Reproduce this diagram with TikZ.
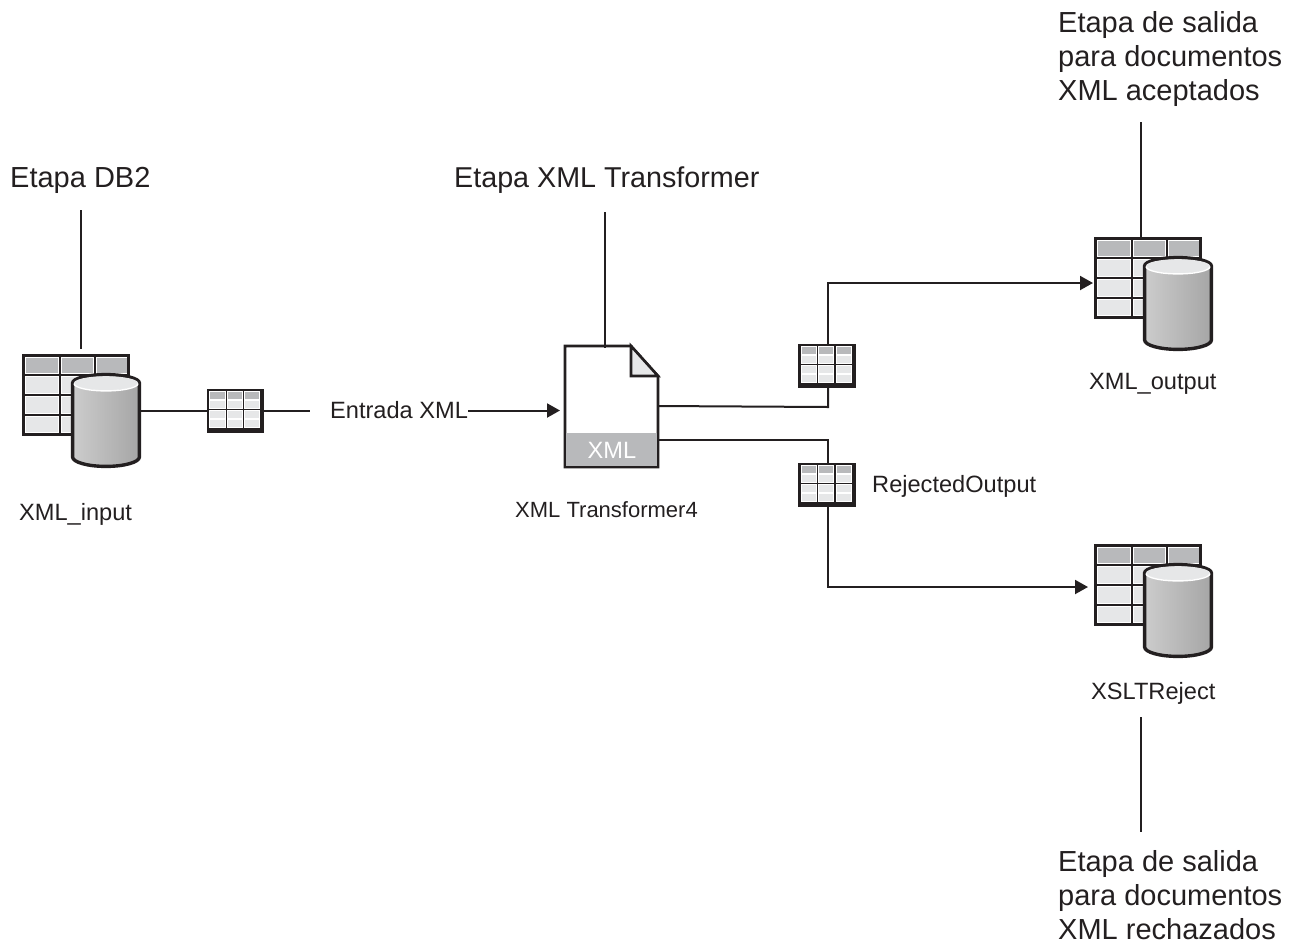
\documentclass[tikz,border=0pt]{standalone}
\usepackage{fontspec}
\setmainfont{Liberation Sans}
\usetikzlibrary{arrows.meta,calc}
\definecolor{ink}{HTML}{231F20}
\definecolor{hdr}{HTML}{B8B9BB}
\definecolor{cellc}{HTML}{E6E7E8}
\tikzset{
  wire/.style={draw=ink,line width=2pt},
  flow/.style={wire,-{Triangle[length=13pt,width=14pt]}},
  lead/.style={draw=ink,line width=1.6pt},
  title/.style={font=\fontsize{29}{34}\selectfont,text=ink,align=left,inner sep=0pt,anchor=north west},
  lab/.style={font=\fontsize{23.6}{28}\selectfont,text=ink,inner sep=0pt,anchor=base west},
  cellh/.style={fill=hdr,draw=white,line width=.6pt},
  cellb/.style={fill=cellc,draw=white,line width=.6pt},
  cellhs/.style={fill=hdr,draw=white,line width=.4pt},
  cellbs/.style={fill=cellc,draw=white,line width=.4pt},
  bigframe/.style={draw=ink,line width=3pt},
  smallframe/.style={draw=ink,line width=2.5pt,inner sep=0pt,minimum width=52.5pt,minimum height=39pt},
  cyl/.style={draw=ink,line width=3.4pt,left color=white!80!black,right color=white!65!black},
}
% big table + cylinder; (0,0) = outer top-left of the table
\newcommand{\dbstore}[3]{%
\begin{scope}[shift={(#2,#3)}]
  \fill[ink] (0,0) rectangle (108,82);
  \foreach \cx in {0,1,2}{
    \path[cellh] ({3.6+\cx*35.2},3.6) rectangle ({36+\cx*35.2},19.3);
    \foreach \ry in {0,1,2}{
      \path[cellb] ({3.6+\cx*35.2},{22.6+\ry*19.7}) rectangle ({36+\cx*35.2},{39.3+\ry*19.7});
    }
  }
  \draw[bigframe] (1.5,1.5) rectangle (106.5,80.5);
  \path[cyl] (50.6,29) -- (50.6,103) arc[start angle=180,end angle=0,x radius=33.4,y radius=9.4] -- (117.4,29) arc[start angle=0,end angle=-180,x radius=33.4,y radius=8.4] -- cycle;
  \fill[cellc] (52,29) arc[start angle=180,end angle=0,x radius=32,y radius=7.4] arc[start angle=0,end angle=-180,x radius=32,y radius=6.8] -- cycle;
  \draw[white,line width=1.4pt] (52,29.5) arc[start angle=180,end angle=0,x radius=32,y radius=7.4];
  \node[inner sep=0pt,minimum width=108pt,minimum height=82pt] (#1t) at (54,41) {};
  \node[inner sep=0pt,minimum width=70pt,minimum height=95pt] (#1c) at (84,66.5) {};
\end{scope}}
% small table centred on x,y
\newcommand{\smalltab}[3]{%
\node[smallframe,fill=ink] (#1) at (#2,#3) {};
\begin{scope}[shift={(#1.north west)}]
  \foreach \cx in {0,1,2}{
    \path[cellhs] ({1.6+\cx*17.3},1.6) rectangle ({16.8+\cx*17.3},9);
    \foreach \ry in {0,1,2}{
      \path[cellbs] ({1.6+\cx*17.3},{10.6+\ry*9.6}) rectangle ({16.8+\cx*17.3},{18.6+\ry*9.6});
    }
  }
\end{scope}
\draw[draw=ink,line width=2.5pt] (#1.north west) rectangle (#1.south east);}
\begin{document}
\begin{tikzpicture}[x=1pt,y=-1pt]
\useasboundingbox (0,0) rectangle (1295,943);
% titles
\node[title] (tdb) at (10,167) {Etapa DB2};
\node[title] (txt) at (454,167) {\fontsize{28.7}{34}\selectfont Etapa XML Transformer};
\node[title] (tok) at (1058,11) {Etapa de salida\\para documentos\\XML aceptados};
\node[title] (trj) at (1058,850) {Etapa de salida\\para documentos\\XML rechazados};
% icons
\dbstore{inp}{22}{354}
\dbstore{out}{1094}{237}
\dbstore{rej}{1094}{544}
\smalltab{s1}{235.5}{410.5}
\smalltab{s2}{827}{365.5}
\smalltab{s3}{827}{484.5}
% document
\path[fill=white,draw=ink,line width=2.6pt] (565,346) -- (631,346) -- (658,376) -- (658,467) -- (565,467) -- cycle;
\fill[hdr] (566.3,433) rectangle (656.7,465.7);
\path[fill=cellc,draw=ink,line width=2.6pt] (631,346) -- (658,376) -- (631,376) -- cycle;
\node[inner sep=0pt,minimum width=93pt,minimum height=121pt] (doc) at (611.5,406.5) {};
\node[font=\fontsize{23.6}{28}\selectfont,text=white,inner sep=0pt] (xmltag) at (612,450) {XML};
% labels
\node[lab] (linp) at (19,520) {XML\_input};
\node[lab] (ldoc) at (515,517) {\fontsize{22}{27}\selectfont XML Transformer4};
\node[lab] (lout) at (1089,389) {XML\_output};
\node[lab] (lrej) at (1091,699) {XSLTReject};
\node[lab] (lrjo) at (872,492) {RejectedOutput};
\node[lab] (lent) at (330,418) {Entrada XML};
% leaders
\draw[lead] (81,210) -- (81,349);
\draw[lead] (605,212) -- (605,348);
\draw[lead] (1141,122) -- (outt.north -| 1141,0);
\draw[lead] (1141,717) -- (1141,832);
% connectors
\draw[wire] (inpc.east |- s1) -- (s1.west);
\draw[wire] (s1.east) -- (310,410.5);
\draw[flow] (lent.east |- 0,410.5) -- (560,410.5);
\draw[wire] (658,406) -- (828,407) -- (s2.south -| 828,0);
\draw[flow] (s2.north -| 828,0) -- (828,283) -- (1093,283);
\draw[wire] (658,440) -- (828,440) -- (s3.north -| 828,0);
\draw[flow] (s3.south -| 828,0) -- (828,587) -- (1088,587);
\end{tikzpicture}
\end{document}
